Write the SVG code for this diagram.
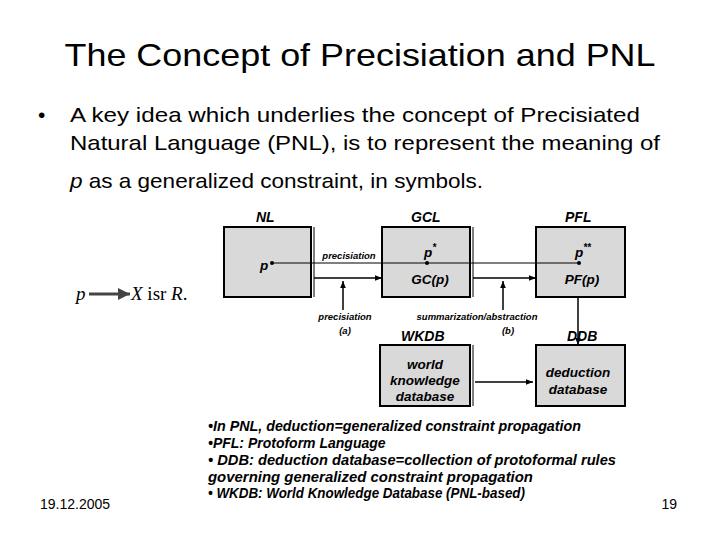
<svg xmlns="http://www.w3.org/2000/svg" width="720" height="540" viewBox="0 0 720 540">
<defs>
<marker id="ah" viewBox="0 0 10 10" refX="10" refY="5" markerWidth="7" markerHeight="7" markerUnits="userSpaceOnUse" orient="auto"><path d="M0,1 L10,5 L0,9 z" fill="#000"/></marker>
<marker id="ahg" viewBox="0 0 10 10" refX="10" refY="5" markerWidth="4" markerHeight="4" orient="auto"><path d="M0,0 L10,5 L0,10 z" fill="#444"/></marker>
<style>
.box{fill:#d9d9d9;stroke:#000;stroke-width:2}
.edge{stroke:#000;stroke-width:1}
.lbl{font-family:"Liberation Sans",Arial,sans-serif;font-weight:bold;font-style:italic;font-size:14px;fill:#000}
.in{font-family:"Liberation Sans",Arial,sans-serif;font-weight:bold;font-style:italic;font-size:13.5px;fill:#000;text-anchor:middle}
.sm{font-family:"Liberation Sans",Arial,sans-serif;font-weight:bold;font-style:italic;font-size:9.5px;fill:#000;text-anchor:middle}
.note{font-family:"Liberation Sans",Arial,sans-serif;font-weight:bold;font-style:italic;font-size:14px;fill:#000}
.body{font-family:"Liberation Sans",Arial,sans-serif;font-size:21px;fill:#000}
.ln{stroke:#000;stroke-width:1.5;fill:none}
</style>
</defs>
<rect width="720" height="540" fill="#fff"/>
<text x="360" y="66" text-anchor="middle" font-family="Liberation Sans, Arial, sans-serif" font-size="32" textLength="591" lengthAdjust="spacingAndGlyphs">The Concept of Precisiation and PNL</text>
<text x="38" y="122" class="body">•</text>
<text x="70" y="122" class="body" textLength="570" lengthAdjust="spacingAndGlyphs">A key idea which underlies the concept of Precisiated</text>
<text x="70" y="150" class="body" textLength="590" lengthAdjust="spacingAndGlyphs">Natural Language (PNL), is to represent the meaning of</text>
<text x="70" y="188" class="body" textLength="413" lengthAdjust="spacingAndGlyphs"><tspan font-style="italic">p</tspan> as a generalized constraint, in symbols.</text>

<g id="formula">
<text x="76" y="300" font-family="Liberation Serif, Times New Roman, serif" font-size="19" font-style="italic">p</text>
<line x1="89" y1="294" x2="130" y2="294" stroke="#444" stroke-width="3" marker-end="url(#ahg)"/>
<text x="131" y="300" font-family="Liberation Serif, Times New Roman, serif" font-size="19"><tspan font-style="italic">X</tspan> isr <tspan font-style="italic">R</tspan>.</text>
</g>

<g id="NL">
<rect class="box" x="224" y="227" width="87" height="70"/>
<line class="edge" x1="314" y1="227" x2="314" y2="297"/>
<text class="lbl" x="256" y="222">NL</text>
<text class="in" x="264" y="270" font-size="15">p</text>
</g>
<g id="GCL">
<rect class="box" x="382" y="227" width="88" height="70"/>
<line class="edge" x1="473" y1="227" x2="473" y2="297"/>
<text class="lbl" x="411" y="222">GCL</text>
<text class="in" x="430" y="257" font-size="15">p<tspan font-size="10" dy="-6">*</tspan></text>
<text class="in" x="430" y="284">GC(p)</text>
</g>
<g id="PFL">
<rect class="box" x="536" y="227" width="89" height="70"/>
<text class="lbl" x="565" y="222">PFL</text>
<text class="in" x="583" y="257" font-size="15">p<tspan font-size="10" dy="-6">**</tspan></text>
<text class="in" x="582" y="284">PF(p)</text>
</g>
<g id="WKDB">
<rect class="box" x="380" y="345" width="90" height="61"/>
<line class="edge" x1="473" y1="345" x2="473" y2="406"/>
<text class="lbl" x="401" y="341">WKDB</text>
<text class="in" x="425" y="369">world</text>
<text class="in" x="425" y="385">knowledge</text>
<text class="in" x="425" y="401">database</text>
</g>
<g id="DDB">
<rect class="box" x="536" y="345" width="89" height="61"/>
<text class="lbl" x="567" y="341">DDB</text>
<text class="in" x="578" y="377">deduction</text>
<text class="in" x="578" y="394">database</text>
</g>

<g id="connectors">
<line x1="272" y1="263" x2="579" y2="263" stroke="#000" stroke-width="1"/>
<circle cx="272" cy="263" r="2" fill="#000"/>
<circle cx="427" cy="263" r="2" fill="#000"/>
<circle cx="579" cy="263" r="2" fill="#000"/>
<line class="ln" x1="314" y1="278" x2="382" y2="278" marker-end="url(#ah)"/>
<line class="ln" x1="473" y1="278" x2="536" y2="278" marker-end="url(#ah)"/>
<line class="ln" x1="343" y1="310" x2="343" y2="281" marker-end="url(#ah)"/>
<line class="ln" x1="503" y1="310" x2="503" y2="281" marker-end="url(#ah)"/>
<line class="ln" x1="578" y1="297" x2="578" y2="345" marker-end="url(#ah)"/>
<line class="ln" x1="475" y1="382" x2="533" y2="382" marker-end="url(#ah)"/>
<text class="sm" x="349" y="259">precisiation</text>
<text class="sm" x="345" y="320">precisiation</text>
<text class="sm" x="345" y="334">(a)</text>
<text class="sm" x="477" y="320">summarization/abstraction</text>
<text class="sm" x="508" y="334">(b)</text>
</g>

<text x="208" y="431" class="note" textLength="373" lengthAdjust="spacingAndGlyphs">•In PNL, deduction=generalized constraint propagation</text>
<text x="208" y="448" class="note">•PFL: Protoform Language</text>
<text x="208" y="465" class="note" textLength="408" lengthAdjust="spacingAndGlyphs">• DDB: deduction database=collection of protoformal rules</text>
<text x="208" y="482" class="note" textLength="325" lengthAdjust="spacingAndGlyphs">governing generalized constraint propagation</text>
<text x="208" y="498" class="note" textLength="317" lengthAdjust="spacingAndGlyphs">• WKDB: World Knowledge Database (PNL-based)</text>

<text x="40" y="509" font-family="Liberation Sans, Arial, sans-serif" font-size="14">19.12.2005</text>
<text x="677" y="509" text-anchor="end" font-family="Liberation Sans, Arial, sans-serif" font-size="14">19</text>
</svg>
